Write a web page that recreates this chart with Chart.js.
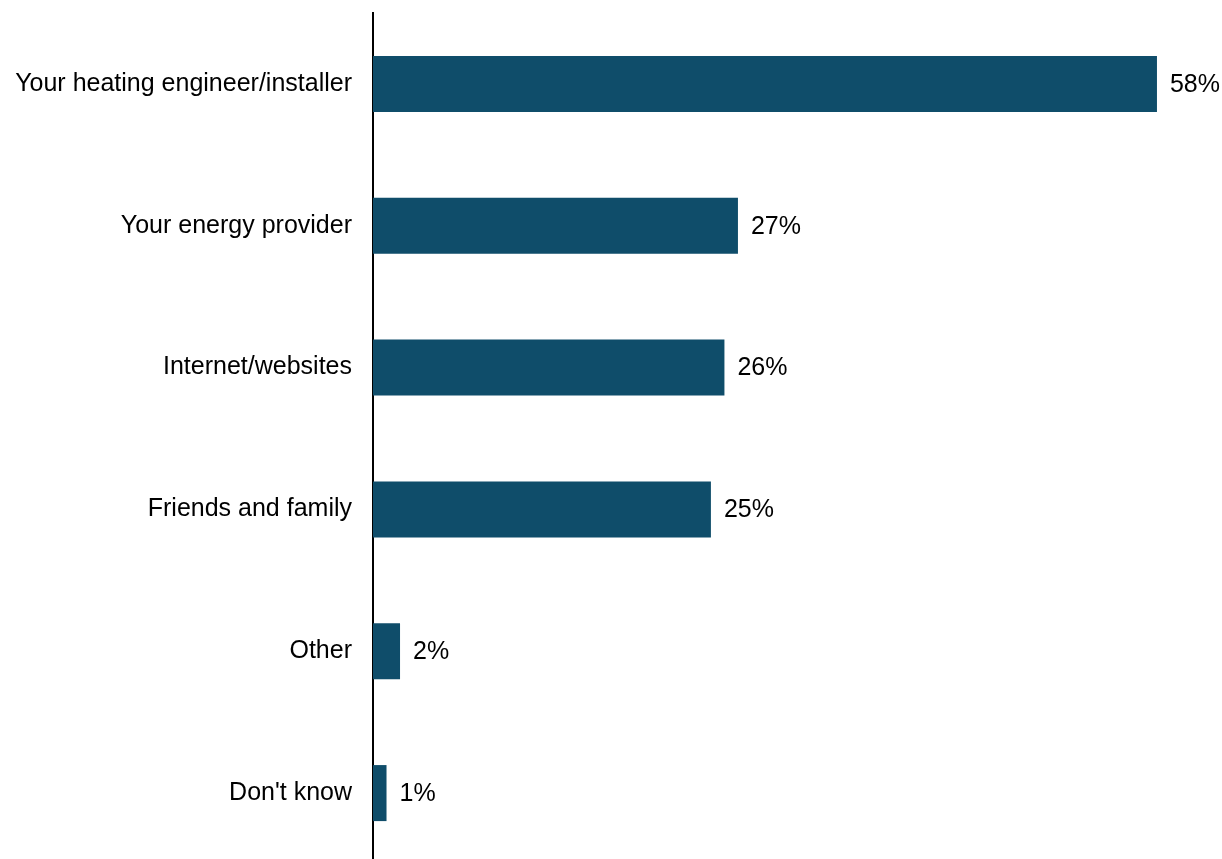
<!DOCTYPE html>
<html lang="en">
<head>
    <meta charset="UTF-8">
    <title>Sources of advice</title>
    <script src="https://cdn.jsdelivr.net/npm/chart.js"></script>
    <style>
        body {
            margin: 0;
            padding: 0;
            background-color: #fff;
            overflow: hidden;
        }

        .chart-wrap {
            width: 1222px;
            height: 859px;
            overflow: hidden;
        }
    </style>
</head>
<body>
    <div class="chart-wrap">
        <canvas id="sourcesChart" width="1222" height="866"></canvas>
    </div>

    <script>
        const categories = [
            'Your heating engineer/installer',
            'Your energy provider',
            'Internet/websites',
            'Friends and family',
            'Other',
            "Don't know"
        ];
        const shares = [58, 27, 26, 25, 2, 1];

        const barColor = '#0f4d6a';
        const fontFamily = "'Liberation Sans', Arial, sans-serif";
        const fontSize = 25;

        // Writes the percentage just past the end of each bar
        const valueLabels = {
            id: 'valueLabels',
            afterDatasetsDraw(chart) {
                const ctx = chart.ctx;
                const meta = chart.getDatasetMeta(0);
                ctx.save();
                ctx.font = fontSize + 'px ' + fontFamily;
                ctx.fillStyle = '#000';
                ctx.textAlign = 'left';
                ctx.textBaseline = 'middle';
                meta.data.forEach((bar, i) => {
                    ctx.fillText(shares[i] + '%', bar.x + 13, bar.y + 1);
                });
                ctx.restore();
            }
        };

        new Chart(document.getElementById('sourcesChart'), {
            type: 'bar',
            data: {
                labels: categories,
                datasets: [{
                    data: shares,
                    backgroundColor: barColor,
                    borderWidth: 0,
                    categoryPercentage: 1,
                    barPercentage: 0.395
                }]
            },
            options: {
                indexAxis: 'y',
                responsive: false,
                animation: false,
                layout: {
                    padding: { top: 13, right: 38, bottom: 2, left: 0 }
                },
                plugins: {
                    legend: { display: false },
                    tooltip: { enabled: false }
                },
                scales: {
                    x: {
                        display: false,
                        min: 0,
                        max: 60
                    },
                    y: {
                        afterFit(scale) {
                            scale.width = 373;
                            scale.paddingTop = 0;
                            scale.paddingBottom = 0;
                        },
                        grid: { display: false, drawTicks: false },
                        border: { display: true, color: '#000', width: 2 },
                        ticks: {
                            color: '#000',
                            padding: 21,
                            font: { family: fontFamily, size: fontSize }
                        }
                    }
                }
            },
            plugins: [valueLabels]
        });
    </script>
</body>
</html>
